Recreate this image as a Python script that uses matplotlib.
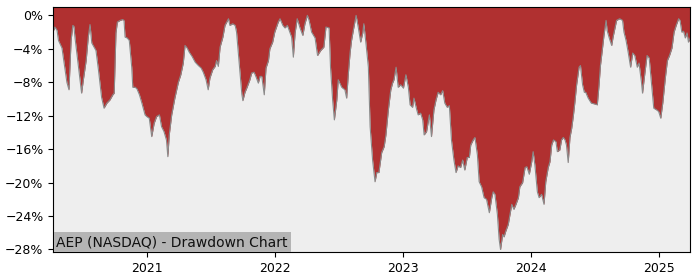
import matplotlib
matplotlib.use("Agg")
import matplotlib.pyplot as plt
import matplotlib.dates as mdates
from matplotlib.ticker import FuncFormatter, MultipleLocator
import pandas as pd

title = "AEP (NASDAQ) - Drawdown Chart"

dates = [
    "2020-04-08", "2020-04-13", "2020-04-19", "2020-04-23", "2020-05-03", "2020-05-12",
    "2020-05-17", "2020-05-23", "2020-05-29", "2020-06-03", "2020-06-06", "2020-06-09",
    "2020-06-16", "2020-06-23", "2020-06-28", "2020-07-03", "2020-07-11", "2020-07-17",
    "2020-07-22", "2020-07-27", "2020-07-31", "2020-08-08", "2020-08-15", "2020-08-24",
    "2020-08-31", "2020-09-08", "2020-09-17", "2020-09-25", "2020-09-29", "2020-10-04",
    "2020-10-08", "2020-10-16", "2020-10-23", "2020-10-27", "2020-10-30", "2020-11-05",
    "2020-11-11", "2020-11-18", "2020-11-21", "2020-11-28", "2020-12-03", "2020-12-10",
    "2020-12-17", "2020-12-26", "2020-12-31", "2021-01-07", "2021-01-14", "2021-01-21",
    "2021-01-28", "2021-02-05", "2021-02-11", "2021-02-18", "2021-02-25", "2021-03-01",
    "2021-03-05", "2021-03-12", "2021-03-21", "2021-03-31", "2021-04-07", "2021-04-14",
    "2021-04-19", "2021-04-25", "2021-05-01", "2021-05-09", "2021-05-18", "2021-05-27",
    "2021-06-04", "2021-06-10", "2021-06-18", "2021-06-24", "2021-06-29", "2021-07-07",
    "2021-07-14", "2021-07-18", "2021-07-23", "2021-07-28", "2021-08-05", "2021-08-11",
    "2021-08-21", "2021-08-25", "2021-09-02", "2021-09-09", "2021-09-13", "2021-09-18",
    "2021-09-23", "2021-09-28", "2021-10-01", "2021-10-07", "2021-10-13", "2021-10-21",
    "2021-10-26", "2021-11-02", "2021-11-08", "2021-11-14", "2021-11-19", "2021-11-24",
    "2021-12-01", "2021-12-06", "2021-12-13", "2021-12-17", "2021-12-25", "2021-12-31",
    "2022-01-10", "2022-01-15", "2022-01-23", "2022-01-29", "2022-02-05", "2022-02-10",
    "2022-02-17", "2022-02-22", "2022-02-27", "2022-03-05", "2022-03-13", "2022-03-21",
    "2022-03-27", "2022-04-03", "2022-04-08", "2022-04-15", "2022-04-25", "2022-05-02",
    "2022-05-11", "2022-05-20", "2022-05-26", "2022-06-04", "2022-06-08", "2022-06-14",
    "2022-06-19", "2022-06-26", "2022-06-30", "2022-07-10", "2022-07-19", "2022-07-24",
    "2022-07-29", "2022-08-03", "2022-08-07", "2022-08-12", "2022-08-20", "2022-08-26",
    "2022-09-02", "2022-09-08", "2022-09-11", "2022-09-17", "2022-09-24", "2022-09-29",
    "2022-10-06", "2022-10-13", "2022-10-18", "2022-10-24", "2022-11-01", "2022-11-08",
    "2022-11-13", "2022-11-20", "2022-11-27", "2022-12-02", "2022-12-06", "2022-12-12",
    "2022-12-18", "2022-12-25", "2023-01-02", "2023-01-09", "2023-01-16", "2023-01-21",
    "2023-01-28", "2023-02-01", "2023-02-09", "2023-02-13", "2023-02-20", "2023-02-26",
    "2023-03-02", "2023-03-09", "2023-03-17", "2023-03-23", "2023-03-30", "2023-04-05",
    "2023-04-11", "2023-04-18", "2023-04-24", "2023-04-30", "2023-05-07", "2023-05-13",
    "2023-05-19", "2023-05-26", "2023-06-01", "2023-06-07", "2023-06-14", "2023-06-20",
    "2023-06-26", "2023-07-03", "2023-07-09", "2023-07-13", "2023-07-20", "2023-07-25",
    "2023-08-01", "2023-08-06", "2023-08-13", "2023-08-20", "2023-08-27", "2023-09-04",
    "2023-09-11", "2023-09-15", "2023-09-20", "2023-09-27", "2023-10-02", "2023-10-06",
    "2023-10-12", "2023-10-16", "2023-10-21", "2023-10-28", "2023-11-02", "2023-11-07",
    "2023-11-13", "2023-11-19", "2023-11-26", "2023-11-30", "2023-12-08", "2023-12-15",
    "2023-12-20", "2023-12-27", "2024-01-03", "2024-01-07", "2024-01-12", "2024-01-19",
    "2024-01-24", "2024-01-31", "2024-02-07", "2024-02-12", "2024-02-19", "2024-02-24",
    "2024-02-29", "2024-03-05", "2024-03-12", "2024-03-16", "2024-03-23", "2024-03-28",
    "2024-04-02", "2024-04-07", "2024-04-11", "2024-04-16", "2024-04-21", "2024-04-26",
    "2024-05-01", "2024-05-05", "2024-05-10", "2024-05-17", "2024-05-21", "2024-05-27",
    "2024-06-01", "2024-06-05", "2024-06-12", "2024-06-21", "2024-07-01", "2024-07-08",
    "2024-07-13", "2024-07-17", "2024-07-23", "2024-07-27", "2024-08-02", "2024-08-05",
    "2024-08-11", "2024-08-18", "2024-08-22", "2024-09-01", "2024-09-10", "2024-09-18",
    "2024-09-22", "2024-09-28", "2024-10-04", "2024-10-11", "2024-10-17", "2024-10-23",
    "2024-10-30", "2024-11-04", "2024-11-11", "2024-11-14", "2024-11-21", "2024-11-27",
    "2024-12-03", "2024-12-10", "2024-12-16", "2024-12-24", "2024-12-30", "2025-01-05",
    "2025-01-11", "2025-01-18", "2025-01-24", "2025-01-30", "2025-02-06", "2025-02-12",
    "2025-02-18", "2025-02-25", "2025-03-01", "2025-03-06", "2025-03-11", "2025-03-16",
    "2025-03-21", "2025-03-25", "2025-03-30",
]

drawdown = [
    -1.9, -1.4, -1.8, -3.0, -3.9, -6.5, -8.0, -8.9, -3.0, -1.2, -1.3, -2.6,
    -5.1, -7.5, -9.3, -7.7, -5.4, -2.6, -1.1, -3.3, -3.6, -4.2, -6.5, -9.8,
    -11.1, -10.5, -10.1, -9.5, -9.3, -2.1, -0.8, -0.6, -0.5, -0.6, -2.6, -2.7,
    -3.0, -6.2, -8.6, -8.6, -8.8, -9.5, -10.5, -11.9, -12.1, -12.3, -14.5, -12.9,
    -12.1, -11.9, -13.3, -13.9, -14.9, -16.9, -14.3, -11.9, -9.9, -8.0, -7.1, -5.7,
    -3.6, -3.9, -4.4, -4.9, -5.6, -6.0, -6.3, -6.8, -7.7, -8.9, -7.5, -6.5,
    -6.1, -5.4, -6.1, -3.8, -2.6, -1.2, -0.4, -1.2, -1.0, -1.2, -2.0, -4.5,
    -6.9, -9.4, -10.2, -9.2, -8.6, -7.7, -6.9, -6.8, -7.4, -8.1, -7.3, -7.3,
    -9.5, -6.3, -5.4, -4.0, -3.2, -2.0, -0.8, -0.4, -1.2, -1.5, -1.2, -1.8,
    -2.6, -5.0, -2.1, -0.4, -1.5, -2.4, -1.0, 0.0, -0.6, -2.0, -2.7, -4.8,
    -4.2, -3.8, -1.4, -1.5, -6.2, -10.1, -12.5, -10.1, -7.7, -8.6, -8.9, -9.9,
    -6.9, -4.4, -3.0, -1.8, 0.0, -1.4, -3.2, -2.1, -1.0, -3.3, -6.2, -13.3,
    -17.3, -19.9, -18.8, -18.8, -16.4, -15.7, -14.3, -11.3, -8.9, -8.1, -7.7, -6.2,
    -8.6, -8.3, -8.7, -7.1, -8.6, -10.7, -11.0, -9.9, -11.3, -11.9, -11.7, -12.5,
    -14.3, -13.9, -11.9, -14.5, -11.3, -10.1, -9.2, -9.5, -9.0, -10.5, -11.0, -10.8,
    -14.9, -17.3, -18.8, -18.0, -18.2, -17.3, -18.5, -17.0, -17.0, -15.5, -14.9, -14.6,
    -16.7, -19.9, -20.5, -21.8, -22.0, -23.6, -21.8, -21.1, -21.4, -23.8, -26.8, -28.0,
    -26.2, -26.5, -25.8, -25.0, -23.8, -22.6, -23.2, -22.6, -21.8, -20.5, -20.0, -18.2,
    -18.1, -19.0, -17.5, -16.3, -17.9, -21.1, -21.8, -21.4, -22.6, -19.9, -18.2, -17.5,
    -15.5, -14.9, -15.1, -16.3, -16.1, -14.9, -14.6, -14.9, -15.5, -17.6, -14.6, -13.5,
    -11.9, -10.4, -8.3, -6.2, -6.0, -8.3, -9.2, -9.2, -9.9, -10.5, -10.6, -10.7,
    -8.3, -6.0, -3.9, -2.4, -0.6, -1.8, -2.7, -3.6, -2.6, -0.6, -0.4, -0.6,
    -2.0, -3.0, -4.4, -6.2, -4.5, -4.8, -6.2, -5.7, -8.0, -9.3, -6.8, -4.8,
    -5.1, -8.3, -11.1, -11.3, -11.5, -12.3, -10.4, -7.5, -5.4, -4.8, -3.9, -2.0,
    -1.2, -0.4, -0.6, -2.0, -1.9, -2.7, -2.1, -3.2, -2.7,
]

y_ticks = [0, -4, -8, -12, -16, -20, -24, -28]

t = pd.to_datetime(dates)

plt.rcParams["font.family"] = "DejaVu Sans"
fig = plt.figure(figsize=(7, 2.8), dpi=100)
ax = fig.add_axes([0.076, 0.1, 0.91, 0.875])
ax.set_facecolor("#eeeeee")

ax.set_ylim(-28.3, 1.0)
ax.set_xlim(t[0], t[-1])
top = ax.get_ylim()[1]

ax.fill_between(t, drawdown, top, color="#b03030", linewidth=0)
ax.plot(t, drawdown, color="#8a8a8a", linewidth=0.8)

ax.set_yticks(y_ticks)
ax.yaxis.set_major_formatter(FuncFormatter(lambda v, p: f"{v:.0f}%".replace("-", "\u2212")))
ax.xaxis.set_major_locator(mdates.YearLocator())
ax.xaxis.set_major_formatter(mdates.DateFormatter("%Y"))
ax.tick_params(labelsize=9)

ax.text(0.005, 0.012, title, transform=ax.transAxes, ha="left", va="bottom",
        fontsize=10, color="#111111",
        bbox=dict(facecolor="#b4b4b4", edgecolor="none", pad=2))

fig.savefig("out.png", dpi=100)
